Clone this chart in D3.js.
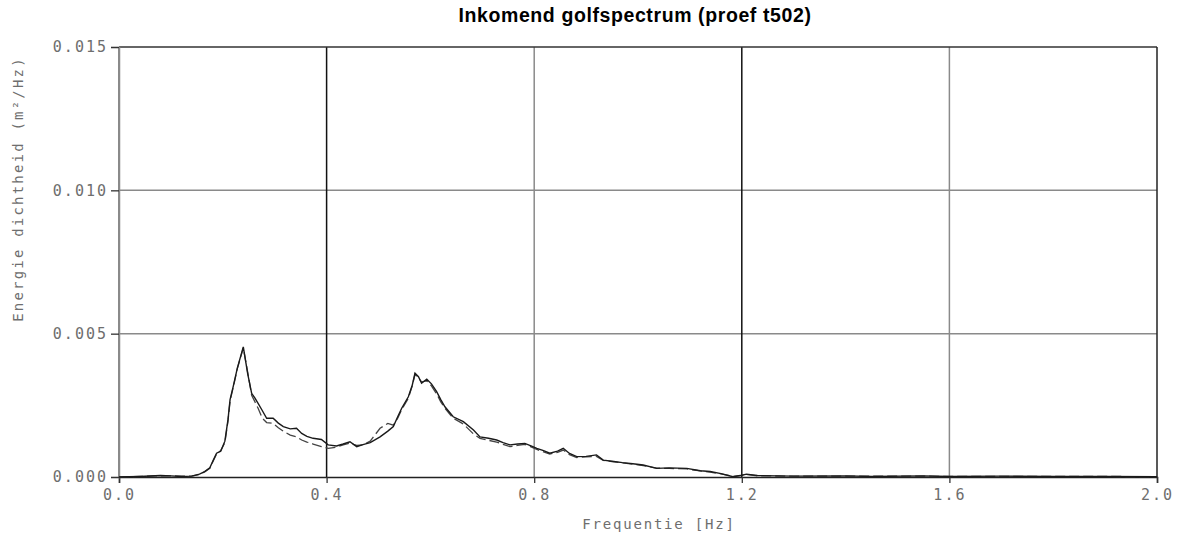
<!DOCTYPE html>
<html>
<head>
<meta charset="utf-8">
<script src="https://cdn.jsdelivr.net/npm/d3@7"></script>
<style>
  body { margin: 0; background: #fff; }
  svg text { font-family: "DejaVu Sans Mono", monospace; }
</style>
</head>
<body>
<div id="chart"></div>
<script>
// frequencies (Hz) and spectral density (m^2/Hz)
var freqs = [0.00, 0.04, 0.08, 0.10, 0.12, 0.14, 0.155, 0.165, 0.175, 0.182, 0.188, 0.196, 0.204, 0.210, 0.214, 0.220, 0.228, 0.2395,
  0.248, 0.2556, 0.262, 0.268, 0.276, 0.2845, 0.297, 0.307, 0.3166, 0.330, 0.342, 0.352, 0.362, 0.374, 0.390, 0.403, 0.419, 0.432,
  0.445, 0.458, 0.470, 0.484, 0.503, 0.518, 0.5286, 0.537, 0.5447, 0.5575, 0.565, 0.5703, 0.577, 0.583, 0.593, 0.602, 0.612, 0.620,
  0.628, 0.644, 0.6635, 0.683, 0.6956, 0.712, 0.7277, 0.740, 0.7534, 0.768, 0.782, 0.795, 0.805, 0.818, 0.830, 0.845, 0.856, 0.868,
  0.882, 0.900, 0.920, 0.933, 0.950, 0.970, 0.990, 1.010, 1.036, 1.060, 1.094, 1.120, 1.139, 1.160, 1.183, 1.200, 1.209, 1.230,
  1.30, 1.40, 1.45, 1.55, 1.60, 1.70, 1.80, 1.90, 2.00];

var measured = [0.00000, 0.00002, 0.00005, 0.00004, 0.00002, 0.00003, 0.00010, 0.00019, 0.00032, 0.00060, 0.00083, 0.00090, 0.00125, 0.00200, 0.00270, 0.00315, 0.00380, 0.00454,
  0.00360, 0.00292, 0.00275, 0.00257, 0.00232, 0.00205, 0.00205, 0.00188, 0.00176, 0.00168, 0.00170, 0.00152, 0.00142, 0.00135, 0.00131, 0.00112, 0.00108, 0.00115,
  0.00123, 0.00106, 0.00113, 0.00120, 0.00140, 0.00160, 0.00176, 0.00210, 0.00240, 0.00280, 0.00320, 0.00362, 0.00350, 0.00327, 0.00341, 0.00325, 0.00298, 0.00270,
  0.00245, 0.00210, 0.00193, 0.00164, 0.00140, 0.00135, 0.00129, 0.00120, 0.00112, 0.00115, 0.00117, 0.00108, 0.00100, 0.00092, 0.00083, 0.00090, 0.00100, 0.00082,
  0.00071, 0.00072, 0.00077, 0.00059, 0.00055, 0.00050, 0.00046, 0.00042, 0.00030, 0.00032, 0.00030, 0.00022, 0.00019, 0.00012, 0.00001, 0.00006, 0.00010, 0.00005,
  0.00003, 0.00004, 0.00002, 0.00004, 0.00002, 0.00003, 0.00002, 0.00002, 0.00001];

var target = [0.00000, 0.00002, 0.00004, 0.00004, 0.00003, 0.00003, 0.00009, 0.00018, 0.00030, 0.00058, 0.00080, 0.00092, 0.00120, 0.00195, 0.00265, 0.00312, 0.00378, 0.00450,
  0.00365, 0.00285, 0.00262, 0.00240, 0.00205, 0.00190, 0.00187, 0.00172, 0.00160, 0.00146, 0.00140, 0.00129, 0.00122, 0.00115, 0.00106, 0.00100, 0.00104, 0.00112,
  0.00118, 0.00110, 0.00112, 0.00125, 0.00170, 0.00187, 0.00181, 0.00205, 0.00235, 0.00275, 0.00318, 0.00358, 0.00345, 0.00332, 0.00335, 0.00318, 0.00290, 0.00262,
  0.00240, 0.00205, 0.00185, 0.00150, 0.00135, 0.00128, 0.00122, 0.00114, 0.00106, 0.00110, 0.00114, 0.00104, 0.00096, 0.00088, 0.00080, 0.00086, 0.00094, 0.00078,
  0.00068, 0.00070, 0.00072, 0.00058, 0.00054, 0.00049, 0.00045, 0.00040, 0.00031, 0.00030, 0.00028, 0.00021, 0.00017, 0.00011, 0.00002, 0.00006, 0.00009, 0.00004,
  0.00003, 0.00003, 0.00003, 0.00003, 0.00002, 0.00002, 0.00002, 0.00002, 0.00001];

var xTicks = [0.0, 0.4, 0.8, 1.2, 1.6, 2.0];
var yTicks = [0.000, 0.005, 0.010, 0.015];
var darkGrid = [0.4, 1.2];

var W = 1190, H = 545;
var margin = {top: 47, right: 33, bottom: 68, left: 119};
var width = W - margin.left - margin.right,
    height = H - margin.top - margin.bottom;

var svg = d3.select("#chart")
  .append("svg")
  .attr("width", W)
  .attr("height", H);

var g = svg.append("g")
  .attr("transform", "translate(" + margin.left + "," + margin.top + ")");

var x = d3.scaleLinear().domain([0, 2]).range([0, width]);
var y = d3.scaleLinear().domain([0, 0.015]).range([height, 0]);

// grid
g.selectAll(".hgrid")
  .data(yTicks.slice(1, 3))
  .enter().append("line")
  .attr("x1", 0).attr("x2", width)
  .attr("y1", function(d) { return y(d); })
  .attr("y2", function(d) { return y(d); })
  .attr("stroke", "#8a8a8a").attr("stroke-width", 1.5);

g.selectAll(".vgrid")
  .data(xTicks.slice(1, 5))
  .enter().append("line")
  .attr("y1", 0).attr("y2", height)
  .attr("x1", function(d) { return x(d); })
  .attr("x2", function(d) { return x(d); })
  .attr("stroke", function(d) { return darkGrid.indexOf(d) >= 0 ? "#111" : "#8a8a8a"; })
  .attr("stroke-width", 1.5);

// frame
g.append("line").attr("x1", 0).attr("x2", width).attr("y1", 0).attr("y2", 0)
  .attr("stroke", "#333").attr("stroke-width", 1.5);
g.append("line").attr("x1", width).attr("x2", width).attr("y1", 0).attr("y2", height)
  .attr("stroke", "#222").attr("stroke-width", 1.5);
g.append("line").attr("x1", 0).attr("x2", 0).attr("y1", 0).attr("y2", height)
  .attr("stroke", "#8a8a8a").attr("stroke-width", 2);

// axes
var xAxis = g.append("g")
  .attr("transform", "translate(0," + height + ")")
  .call(d3.axisBottom(x).tickValues(xTicks).tickFormat(d3.format(".1f")).tickSize(6).tickPadding(6));
var yAxis = g.append("g")
  .call(d3.axisLeft(y).tickValues(yTicks).tickFormat(d3.format(".3f")).tickSize(8).tickPadding(3));

[xAxis, yAxis].forEach(function(a) {
  a.select(".domain").attr("stroke", "#222").attr("stroke-width", 1.5);
  a.selectAll(".tick line").attr("stroke", "#333").attr("stroke-width", 1.3);
  a.selectAll("text")
    .attr("fill", "#6e6e6e")
    .style("font-family", "'DejaVu Sans Mono', monospace")
    .style("font-size", "15px")
    .style("letter-spacing", "2px");
});
yAxis.select(".domain").attr("stroke", "#8a8a8a");

// curves
var line = d3.line()
  .x(function(d) { return x(d[0]); })
  .y(function(d) { return y(d[1]); });

g.append("path")
  .datum(freqs.map(function(f, i) { return [f, target[i]]; }))
  .attr("d", line)
  .attr("fill", "none")
  .attr("stroke", "#444")
  .attr("stroke-width", 1.3)
  .attr("stroke-dasharray", "10,4");

g.append("path")
  .datum(freqs.map(function(f, i) { return [f, measured[i]]; }))
  .attr("d", line)
  .attr("fill", "none")
  .attr("stroke", "#1a1a1a")
  .attr("stroke-width", 1.4);

// titles
svg.append("text")
  .attr("x", 635).attr("y", 22)
  .attr("text-anchor", "middle")
  .style("font-family", "'Liberation Sans', Arial, sans-serif")
  .style("font-weight", "bold")
  .style("font-size", "19.5px")
  .style("letter-spacing", "0.6px")
  .attr("fill", "#000")
  .text("Inkomend golfspectrum (proef t502)");

svg.append("text")
  .attr("x", 659).attr("y", 529)
  .attr("text-anchor", "middle")
  .attr("fill", "#6e6e6e")
  .style("font-size", "14px")
  .style("letter-spacing", "1.8px")
  .text("Frequentie [Hz]");

svg.append("text")
  .attr("transform", "translate(23,189) rotate(-90)")
  .attr("text-anchor", "middle")
  .attr("fill", "#6e6e6e")
  .style("font-size", "14px")
  .style("letter-spacing", "2.2px")
  .text("Energie dichtheid (m\u00b2/Hz)");
</script>
</body>
</html>
